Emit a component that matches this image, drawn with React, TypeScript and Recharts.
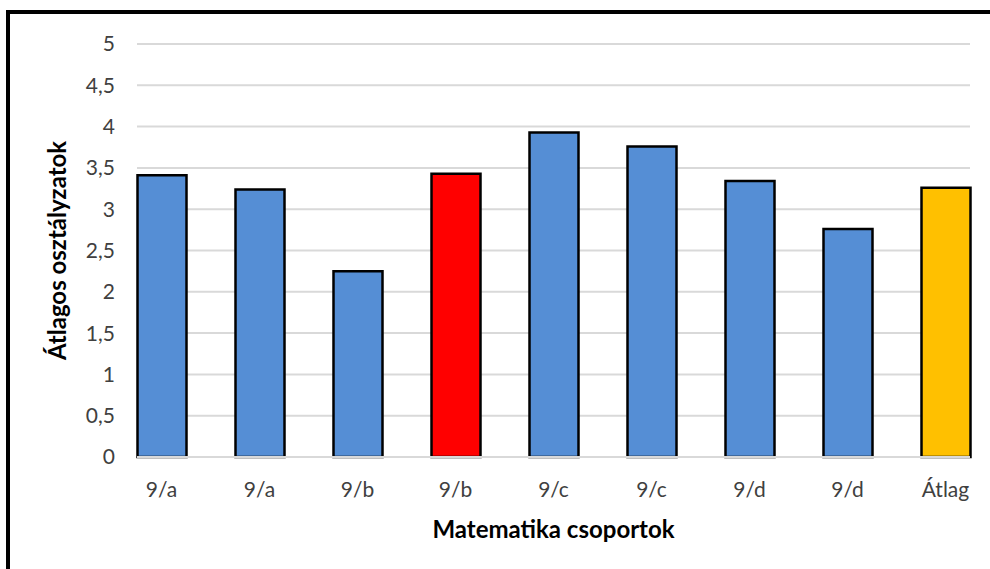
import { BarChart, Bar, XAxis, YAxis, CartesianGrid, Cell } from "recharts"

// csoportok és átlagos osztályzataik
const groups = ["9/a", "9/a", "9/b", "9/b", "9/c", "9/c", "9/d", "9/d", "Átlag"]
const averages = [3.41, 3.24, 2.25, 3.43, 3.93, 3.76, 3.34, 2.76, 3.26]
const yTicks = [0, 0.5, 1, 1.5, 2, 2.5, 3, 3.5, 4, 4.5, 5]

const BLUE = "#558ed5"
const BAR_COLORS = [BLUE, BLUE, BLUE, "#ff0000", BLUE, BLUE, BLUE, BLUE, "#ffc000"]

const FONT = "Lato, 'Open Sans', sans-serif"
const GRID = "#d9d9d9"

const data = groups.map((g, i) => ({ csoport: g, atlag: averages[i] }))

const fmt = (v: number) => String(v).replace(".", ",")

export default function App() {
  return (
    <div
      style={{
        position: "fixed",
        inset: 0,
        overflow: "hidden",
        background: "#fff",
        fontFamily: FONT,
      }}
    >
      <div
        style={{
          position: "absolute",
          left: 6,
          top: 10,
          width: 1020,
          height: 620,
          border: "4px solid #000",
        }}
      />
      <div style={{ position: "absolute", left: 0, top: 0 }}>
        <BarChart
          width={990}
          height={569}
          data={data}
          margin={{ top: 44, right: 20, left: 0, bottom: 0 }}
        >
          <CartesianGrid vertical={false} stroke={GRID} strokeWidth={2} />
          <XAxis
            dataKey="csoport"
            height={112}
            padding={{ left: -24.5, right: -24.5 }}
            tickLine={false}
            tickSize={0}
            tickMargin={25}
            axisLine={{ stroke: GRID, strokeWidth: 2 }}
            tick={{ fill: "#404040", fontSize: 21, fontFamily: FONT }}
            label={({ viewBox }: any) => (
              <text
                x={viewBox.x + viewBox.width / 2}
                y={viewBox.y + 71}
                textAnchor="middle"
                dominantBaseline="central"
                fontFamily={FONT}
                fontWeight={700}
                fontSize={24}
                fill="#000"
              >
                Matematika csoportok
              </text>
            )}
          />
          <YAxis
            width={137}
            domain={[0, 5]}
            ticks={yTicks}
            tickFormatter={fmt}
            axisLine={false}
            tickLine={false}
            tickSize={0}
            tickMargin={22}
            tick={{ fill: "#404040", fontSize: 21, fontFamily: FONT }}
            label={({ viewBox }: any) => {
              const cx = viewBox.x + 56
              const cy = viewBox.y + viewBox.height / 2
              return (
                <text
                  x={cx}
                  y={cy}
                  transform={`rotate(-90, ${cx}, ${cy})`}
                  textAnchor="middle"
                  dominantBaseline="central"
                  fontFamily={FONT}
                  fontWeight={700}
                  fontSize={24}
                  fill="#000"
                >
                  Átlagos osztályzatok
                </text>
              )
            }}
          />
          <Bar
            dataKey="atlag"
            barSize={49}
            stroke="#000"
            strokeWidth={2.5}
            isAnimationActive={false}
          >
            {data.map((_, i) => (
              <Cell key={i} fill={BAR_COLORS[i]} />
            ))}
          </Bar>
        </BarChart>
      </div>
    </div>
  )
}
